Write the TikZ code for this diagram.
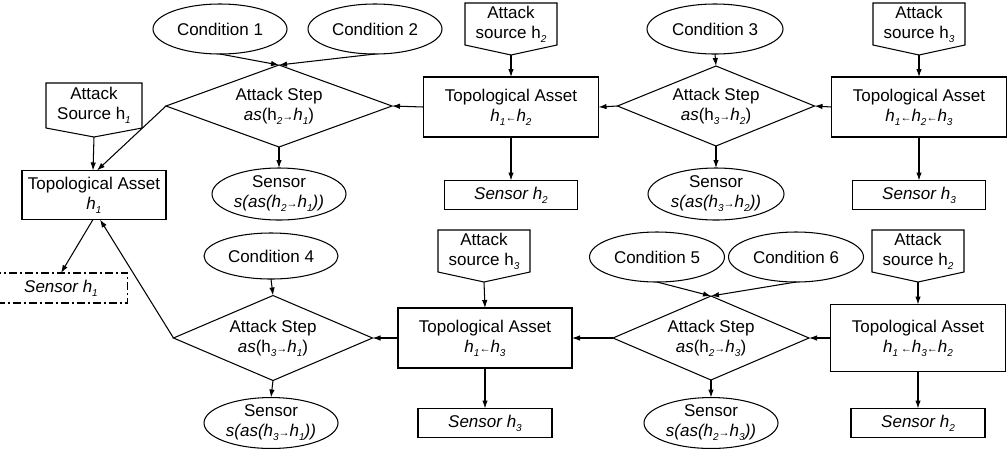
\documentclass[tikz,border=0pt]{standalone}
\usepackage{fontspec}
\setmainfont{Liberation Sans}
\usetikzlibrary{shapes.geometric,arrows.meta}

\newcommand{\hsub}[1]{\raisebox{-0.45ex}{\fontsize{10}{10}\selectfont\itshape #1}}
\newcommand{\rarr}{{\fontsize{11}{11}\selectfont →}}
\newcommand{\larr}{{\fontsize{11}{11}\selectfont ←}}

\tikzset{
  every node/.style={outer sep=0pt, inner sep=0pt, align=center},
  cond/.style={draw, ellipse, minimum width=134pt, minimum height=50pt},
  sensell/.style={draw, ellipse, minimum width=134pt, minimum height=52pt},
  attstep/.style={draw, diamond, aspect=2.5},
  asset/.style={draw, rectangle, minimum width=175pt, minimum height=60pt},
  sensbox/.style={draw, rectangle, minimum width=133pt, minimum height=29pt},
  srcbox/.style={rectangle, minimum width=92pt, minimum height=42pt},
  arr/.style={-{Latex[length=8pt,width=5.5pt]}}
}

\begin{document}
\begin{tikzpicture}[x=1pt, y=-1pt, line width=1.05pt, font=\fontsize{17}{20}\selectfont]

  \useasboundingbox (0,0) rectangle (1008,459);

  % Bedingungen
  \node[cond] (c1) at (220,29) {Condition 1};
  \node[cond] (c2) at (375,29) {Condition 2};
  \node[cond, minimum width=136pt] (c3) at (715,29) {Condition 3};
  \node[cond, minimum height=46pt] (c4) at (271,256) {Condition 4};
  \node[cond, minimum width=135pt] (c5) at (657,257) {Condition 5};
  \node[cond, minimum width=135pt] (c6) at (796,257) {Condition 6};

  % Angriffsquellen
  \node[srcbox, minimum width=96pt, minimum height=45pt] (src1) at (94,105.5) {Attack\\Source h\hsub{1}};
  \node[srcbox] (src2) at (511,24) {Attack\\source h\hsub{2}};
  \node[srcbox] (src3) at (919,24) {Attack\\source h\hsub{3}};
  \node[srcbox] (src4) at (484,251) {Attack\\source h\hsub{3}};
  \node[srcbox] (src5) at (918,251) {Attack\\source h\hsub{2}};
  \foreach \n/\t in {src1/9,src2/10,src3/10,src4/10,src5/10}
    \draw (\n.north west) -- (\n.north east) -- (\n.south east)
      -- ([yshift=-\t pt]\n.south) -- (\n.south west) -- cycle;

  % Angriffsschritte
  \node[attstep, minimum width=226pt, minimum height=82pt] (d1) at (279,106)
    {Attack Step\\\textit{as}(h\hsub{2}\rarr\textit{h}\hsub{1})};
  \node[attstep, minimum width=197pt, minimum height=80pt] (d2) at (716,106)
    {Attack Step\\\textit{as}(h\hsub{3}\rarr\textit{h}\hsub{2})};
  \node[attstep, minimum width=199pt, minimum height=85pt] (d4) at (273,338)
    {Attack Step\\\textit{as}(h\hsub{3}\rarr\textit{h}\hsub{1})};
  \node[attstep, minimum width=196pt, minimum height=84pt] (d5) at (711,338)
    {Attack Step\\\textit{as}(h\hsub{2}\rarr\textit{h}\hsub{3})};

  % Topologische Assets
  \node[asset, minimum width=144pt, minimum height=49pt] (ta1) at (94,195)
    {Topological Asset\\\textit{h}\hsub{1}};
  \node[asset] (ta2) at (511,107)
    {Topological Asset\\\textit{h}\hsub{1}\larr\textit{h}\hsub{2}};
  \node[asset] (ta3) at (919,107)
    {Topological Asset\\\textit{h}\hsub{1}\larr\textit{h}\hsub{2}\larr\textit{h}\hsub{3}};
  \node[asset, minimum width=174pt] (ta4) at (485,338)
    {Topological Asset\\\textit{h}\hsub{1}\larr\textit{h}\hsub{3}};
  \node[asset, minimum height=67pt] (ta5) at (918,338)
    {Topological Asset\\\textit{h}\hsub{1}\,\larr\textit{h}\hsub{3}\larr\textit{h}\hsub{2}};

  % Sensoren
  \node[sensell] (s1) at (279,194) {Sensor\\\textit{s(as(h}\hsub{2}\rarr\textit{h}\hsub{1}\textit{))}};
  \node[sensell, minimum width=136pt] (s2) at (716,194) {Sensor\\\textit{s(as(h}\hsub{3}\rarr\textit{h}\hsub{2}\textit{))}};
  \node[sensell, minimum height=50pt] (s4) at (271,423) {Sensor\\\textit{s(as(h}\hsub{3}\rarr\textit{h}\hsub{1}\textit{))}};
  \node[sensell, minimum height=50pt] (s5) at (711,423) {Sensor\\\textit{s(as(h}\hsub{2}\rarr\textit{h}\hsub{3}\textit{))}};

  \node[sensbox] (sh2) at (511,195) {\textit{Sensor h}\hsub{2}};
  \node[sensbox] (sh3) at (919,195) {\textit{Sensor h}\hsub{3}};
  \node[sensbox, minimum height=30pt, draw=none] (sh1) at (61,288) {\textit{Sensor h}\hsub{1}};
  \draw[dash pattern=on 8pt off 3pt on 2pt off 3pt] (sh1.north west) rectangle (sh1.south east);
  \node[sensbox, minimum width=134pt] (sh3b) at (485,423) {\textit{Sensor h}\hsub{3}};
  \node[sensbox, minimum width=134pt] (sh2b) at (918,423) {\textit{Sensor h}\hsub{2}};

  % Pfeile oben
  \draw[arr] (c1.south) -- (d1.north);
  \draw[arr] (c2.south) -- (d1.north);
  \draw[arr] (d1.west) -- ([xshift=3pt]ta1.north);
  \draw[arr] ([yshift=-9pt]src1.south) -- ([xshift=-1pt]ta1.north);
  \draw[arr] (d1.south) -- (s1.north);
  \draw[arr] (ta2.west) -- (d1.east);
  \draw[arr] ([yshift=-10pt]src2.south) -- (ta2.north);
  \draw[arr] (ta2.south) -- (sh2.north);
  \draw[arr] (d2.west) -- (ta2.east);
  \draw[arr] (c3.south) -- (d2.north);
  \draw[arr] (d2.south) -- (s2.north);
  \draw[arr] (ta3.west) -- (d2.east);
  \draw[arr] ([yshift=-10pt]src3.south) -- (ta3.north);
  \draw[arr] (ta3.south) -- (sh3.north);

  % Pfeile unten
  \draw[arr] (c4.south) -- (d4.north);
  \draw[arr] (d4.south) -- (s4.north);
  \draw[arr] (d4.west) -- ([xshift=6pt]ta1.south);
  \draw[arr] ([xshift=-1pt]ta1.south) -- (sh1.north);
  \draw[arr] (ta4.west) -- (d4.east);
  \draw[arr] ([yshift=-10pt]src4.south) -- (ta4.north);
  \draw[arr] (ta4.south) -- (sh3b.north);
  \draw[arr] (d5.west) -- (ta4.east);
  \draw[arr] (c5.south) -- (d5.north);
  \draw[arr] (c6.south) -- (d5.north);
  \draw[arr] (d5.south) -- (s5.north);
  \draw[arr] (ta5.west) -- (d5.east);
  \draw[arr] ([yshift=-10pt]src5.south) -- (ta5.north);
  \draw[arr] (ta5.south) -- (sh2b.north);

\end{tikzpicture}
\end{document}
